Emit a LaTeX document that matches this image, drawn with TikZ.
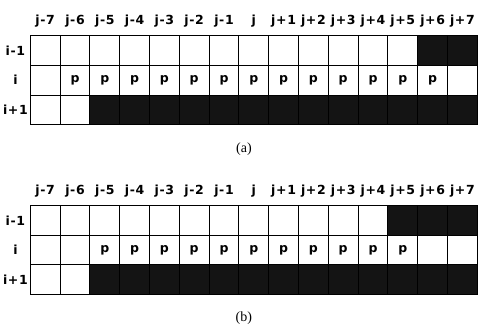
\documentclass[tikz,border=0pt]{standalone}
\usepackage{fontspec}
\setmainfont{Liberation Serif}
\newfontfamily\lblfont[LetterSpace=5]{DejaVu Sans}
\usetikzlibrary{matrix,positioning}
\tikzset{
    cell/.style={draw, line width=1pt, minimum width=29.8pt, minimum height=29.7pt,
        inner sep=0pt, outer sep=0pt, anchor=center,
        font=\lblfont\bfseries\fontsize{12.5}{14}\selectfont},
    lbl/.style={draw=none, minimum width=30.8pt, minimum height=30.7pt},
    dk/.style={fill=black!92, draw=black},
    captxt/.style={font=\fontsize{14}{16}\selectfont, xshift=5pt},
    tab/.style={matrix of nodes, nodes in empty cells, inner sep=0pt, outer sep=0pt,
        column sep=-1pt, row sep=-1pt, nodes={cell},
        row 1/.style={nodes={lbl}}, column 1/.style={nodes={lbl}}},
}
\begin{document}
    \begin{tikzpicture}[x=1pt, y=1pt]
        \useasboundingbox (0,0) rectangle (478,324);
        % (a)
        \matrix (tabA) [tab, anchor=north west] at (0,318.5) {
                & j-7 & j-6 & j-5 & j-4 & j-3 & j-2 & j-1 & j & j+1 & j+2 & j+3 & j+4 & j+5 & j+6 & j+7 \\
            i-1 & & & & & & & & & & & & & & |[dk]| & |[dk]| \\
            i   & & p & p & p & p & p & p & p & p & p & p & p & p & p & \\
            i+1 & & & |[dk]| & |[dk]| & |[dk]| & |[dk]| & |[dk]| & |[dk]| & |[dk]| & |[dk]| & |[dk]| & |[dk]| & |[dk]| & |[dk]| & |[dk]| \\
        };
        \node (capA) [captxt, below=14pt of tabA] {(a)};
        % (b)
        \matrix (tabB) [tab, below=50pt of tabA] {
                & j-7 & j-6 & j-5 & j-4 & j-3 & j-2 & j-1 & j & j+1 & j+2 & j+3 & j+4 & j+5 & j+6 & j+7 \\
            i-1 & & & & & & & & & & & & & |[dk]| & |[dk]| & |[dk]| \\
            i   & & & p & p & p & p & p & p & p & p & p & p & p & & \\
            i+1 & & & |[dk]| & |[dk]| & |[dk]| & |[dk]| & |[dk]| & |[dk]| & |[dk]| & |[dk]| & |[dk]| & |[dk]| & |[dk]| & |[dk]| & |[dk]| \\
        };
        \node (capB) [captxt, below=13pt of tabB] {(b)};
    \end{tikzpicture}
\end{document}
